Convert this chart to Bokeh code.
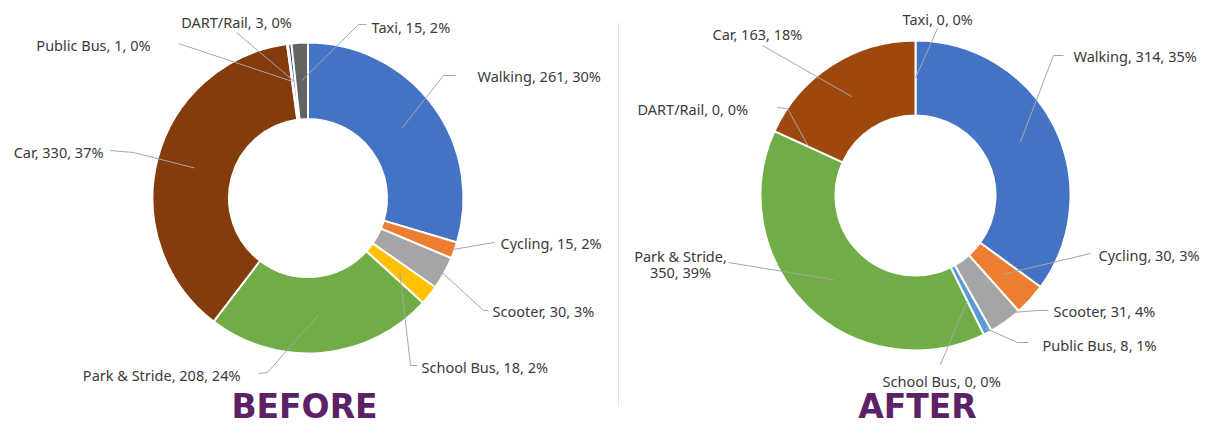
import math
from bokeh.plotting import figure
from bokeh.models import Range1d
from bokeh.core.properties import value
from bokeh.embed import file_html
from bokeh.resources import INLINE

# ---------------- data ----------------
before_categories = ["Walking", "Cycling", "Scooter", "School Bus", "Park & Stride",
                     "Car", "Public Bus", "DART/Rail", "Taxi"]
before_values = [261, 15, 30, 18, 208, 330, 1, 3, 15]
before_percents = [30, 2, 3, 2, 24, 37, 0, 0, 2]

after_categories = ["Walking", "Cycling", "Scooter", "Public Bus", "School Bus",
                    "Park & Stride", "DART/Rail", "Car", "Taxi"]
after_values = [314, 30, 31, 8, 0, 350, 0, 163, 0]
after_percents = [35, 3, 4, 1, 0, 39, 0, 18, 0]

titles = ["BEFORE", "AFTER"]

# ---------------- styles ----------------
colors_before = {"Walking": "#4472C4", "Cycling": "#ED7D31", "Scooter": "#A5A5A5",
                 "School Bus": "#FFC000", "Park & Stride": "#70AD47", "Car": "#843C0C",
                 "Public Bus": "#5B9BD5", "DART/Rail": "#264478", "Taxi": "#636363"}
colors_after = dict(colors_before)
colors_after["Car"] = "#9E480E"

LABEL_FONT = value("Noto Sans")
LABEL_COLOR = "#3A3A3A"
LEADER_COLOR = "#A6A6A6"

# layout in image pixel coordinates (x right, y down)
before_layout = {
    "Walking":       dict(tx=477, ty=75,  align="left",   r=117.5, path=[(443, 75), (455, 75)]),
    "Cycling":       dict(tx=500, ty=242, align="left",   r=153,   path=[(494, 242)]),
    "Scooter":       dict(tx=492, ty=310, align="left",   r=152,   path=[(483, 310), (488, 310)]),
    "School Bus":    dict(tx=421, ty=366, align="left",   r=117.5, path=[(410, 365), (417, 365)]),
    "Park & Stride": dict(tx=240, ty=374, align="right",  r=117.5, path=[(267, 372), (258, 373)]),
    "Car":           dict(tx=103, ty=151, align="right",  r=117.5, path=[(133, 152), (110, 150)]),
    "Public Bus":    dict(tx=150, ty=44,  align="right",  r=117.5, path=[(178, 43)]),
    "DART/Rail":     dict(tx=236, ty=21,  align="center", r=117.5, path=[(236, 32)]),
    "Taxi":          dict(tx=371, ty=26,  align="left",   r=117.5, path=[(358, 24), (366, 24)]),
}
after_layout = {
    "Walking":       dict(tx=1073, ty=55,  align="left",   r=117.5, path=[(1053, 55), (1063, 55)]),
    "Cycling":       dict(tx=1098, ty=254, align="left",   r=117.5, path=[(1090, 253)]),
    "Scooter":       dict(tx=1053, ty=310, align="left",   r=145,   path=[(1037, 310), (1048, 310)]),
    "Public Bus":    dict(tx=1042, ty=344, align="left",   r=150,   path=[(1017, 342), (1028, 342)]),
    "School Bus":    dict(tx=882,  ty=380, align="left",   r=117.5, path=[(940, 364)]),
    "Park & Stride": dict(tx=680,  ty=255, align="center", r=117.5, path=[(728, 262)], wrap=True),
    "DART/Rail":     dict(tx=637,  ty=108, align="left",   r=117.5, path=[(787, 108), (777, 107)]),
    "Car":           dict(tx=712,  ty=33,  align="left",   r=117.5, path=[(762, 45)]),
    "Taxi":          dict(tx=902,  ty=18,  align="left",   r=117.5, path=[(937, 28)]),
}

charts = [
    dict(cats=before_categories, vals=before_values, pcts=before_percents, colors=colors_before,
         layout=before_layout, cx=307.5, cy=197.5, r_out=155.5, r_in=79, title_x=304),
    dict(cats=after_categories, vals=after_values, pcts=after_percents, colors=colors_after,
         layout=after_layout, cx=915, cy=195, r_out=155, r_in=80, title_x=917),
]

W, H = 1203, 427
p = figure(width=W, height=H, output_backend="svg", toolbar_location=None,
           x_range=Range1d(0, W), y_range=Range1d(-H, 0),
           x_axis_location=None, y_axis_location=None, min_border=0)
p.grid.visible = False
p.outline_line_color = None
p.background_fill_color = "white"
p.border_fill_color = "white"

# separator
p.segment(x0=[618], y0=[-22], x1=[618], y1=[-406], line_color="#E4E4E4", line_width=1)

for ch, title in zip(charts, titles):
    vals = ch["vals"]
    total = sum(vals)
    cx, cy = ch["cx"], -ch["cy"]
    mids = []
    ws, we, wc = [], [], []
    c = 0
    for cat, v in zip(ch["cats"], vals):
        a0 = c / total
        c += v
        a1 = c / total
        mids.append(math.pi / 2 - math.pi * (a0 + a1))
        if v > 0:
            ws.append(math.pi / 2 - 2 * math.pi * a0)
            we.append(math.pi / 2 - 2 * math.pi * a1)
            wc.append(ch["colors"][cat])
    p.annular_wedge(x=[cx] * len(ws), y=[cy] * len(ws), inner_radius=ch["r_in"],
                    outer_radius=ch["r_out"], start_angle=ws, end_angle=we,
                    direction="clock", fill_color=wc, line_color="white", line_width=2)

    # leader lines
    xs, ys = [], []
    for cat, mid in zip(ch["cats"], mids):
        lay = ch["layout"][cat]
        px = cx + lay["r"] * math.cos(mid)
        py = cy + lay["r"] * math.sin(mid)
        xs.append([px] + [q[0] for q in lay["path"]])
        ys.append([py] + [-q[1] for q in lay["path"]])
    p.multi_line(xs=xs, ys=ys, line_color=LEADER_COLOR, line_width=1)

    # labels
    for cat, v, pc in zip(ch["cats"], vals, ch["pcts"]):
        lay = ch["layout"][cat]
        if lay.get("wrap"):
            lines = [f"{cat},", f"{v}, {pc}%"]
        else:
            lines = [f"{cat}, {v}, {pc}%"]
        for i, t in enumerate(lines):
            p.text(x=[lay["tx"]], y=[-(lay["ty"] + 16 * i)], text=[t],
                   text_font=LABEL_FONT, text_font_size="14.5px", text_color=LABEL_COLOR,
                   text_align=lay["align"], text_baseline="middle")

    p.text(x=[ch["title_x"]], y=[-406], text=[title], text_font=value("DejaVu Sans"),
           text_font_size="33px", text_font_style="bold", text_color="#5C2166",
           text_align="center", text_baseline="middle")

open("out.html", "w").write(file_html(p, INLINE))
